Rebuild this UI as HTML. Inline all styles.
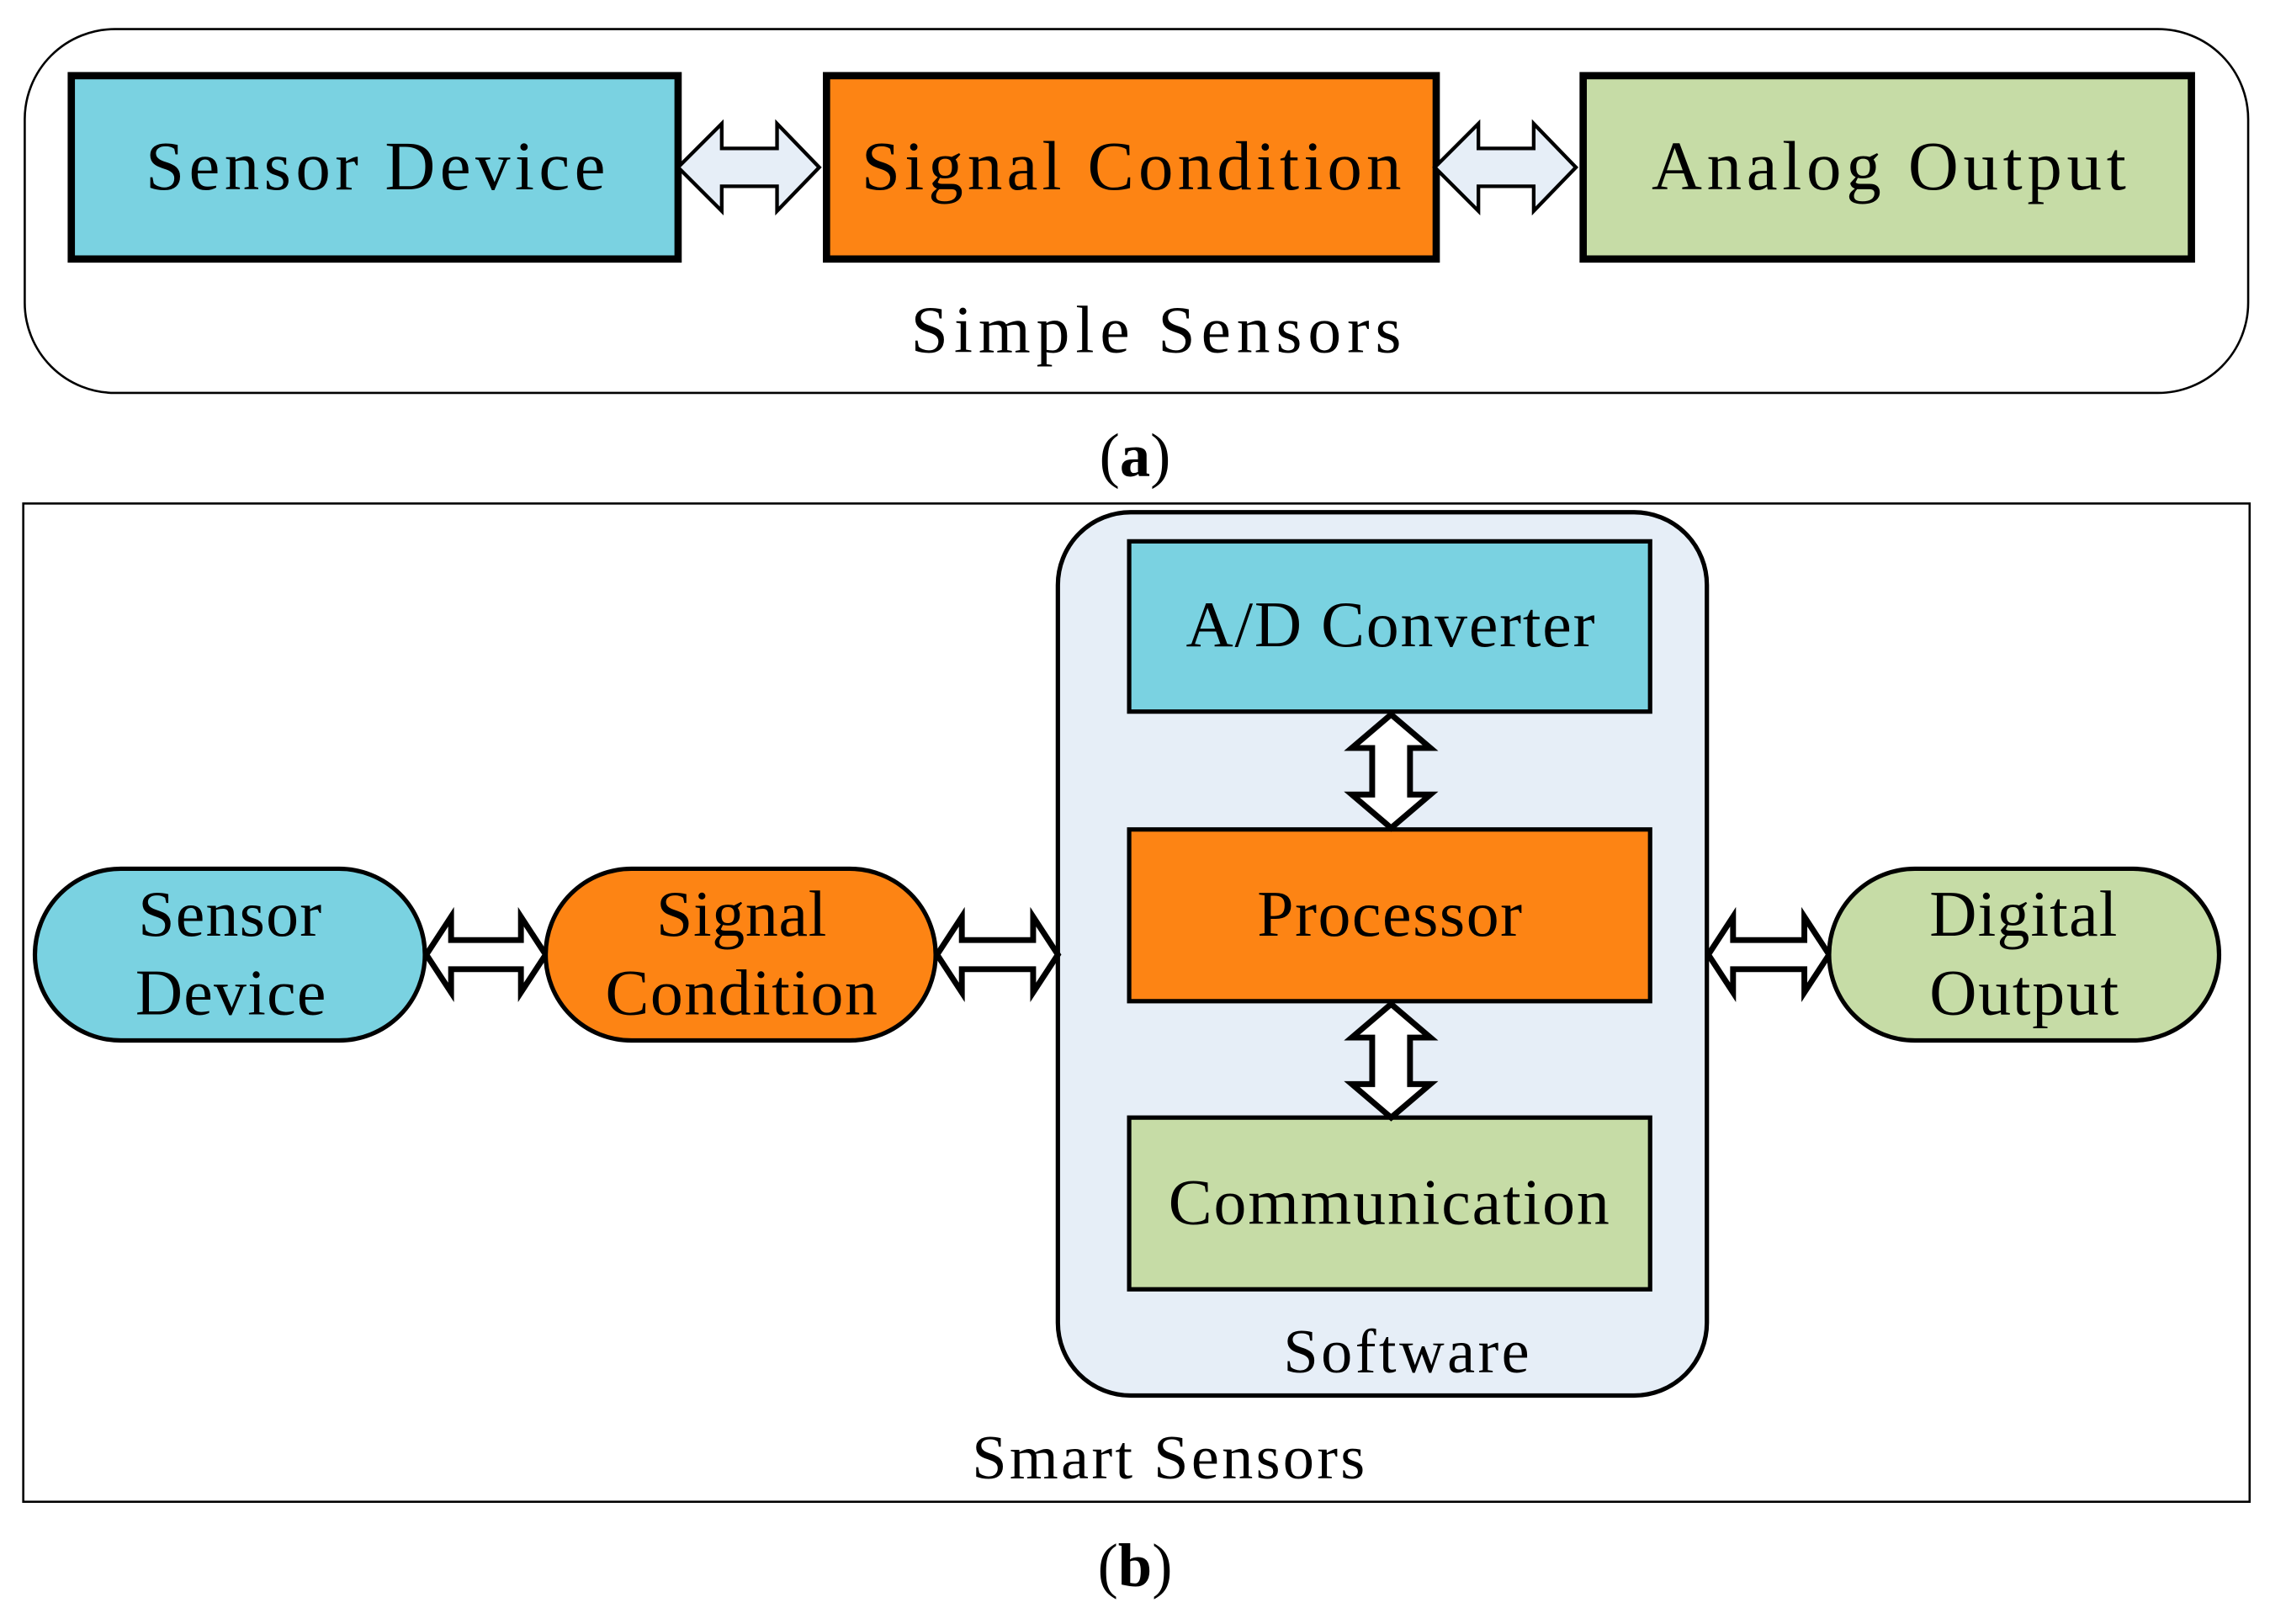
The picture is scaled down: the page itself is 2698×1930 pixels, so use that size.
<!DOCTYPE html>
<html><head><meta charset="utf-8"><style>
html,body{margin:0;padding:0;background:#fff}
svg{display:block}
text{font-family:"Liberation Serif",serif;fill:#000}
</style></head><body>
<svg width="2698" height="1930" viewBox="0 0 1560 1116" preserveAspectRatio="none" xmlns="http://www.w3.org/2000/svg">
<rect x="17" y="20" width="1528" height="250" rx="62" fill="#fff" stroke="#000" stroke-width="1.5"/>
<rect x="49" y="52" width="417" height="126" fill="#7ad2e1" stroke="#000" stroke-width="5"/>
<rect x="568" y="52" width="419" height="126" fill="#fd8414" stroke="#000" stroke-width="5"/>
<rect x="1088" y="52" width="418" height="126" fill="#c6dca6" stroke="#000" stroke-width="5"/>
<text x="100" y="130" font-size="48" textLength="316" lengthAdjust="spacing">Sensor Device</text>
<text x="592" y="130" font-size="48" textLength="371" lengthAdjust="spacing">Signal Condition</text>
<text x="1135" y="130" font-size="48" textLength="326" lengthAdjust="spacing">Analog Output</text>
<g fill="#e6eef7" stroke="#000" stroke-width="2.5" stroke-linejoin="miter">
<path d="M466,115 L496,85 L496,102 L534,102 L534,85 L563,115 L534,145 L534,128 L496,128 L496,145 Z"/>
<path d="M986,115 L1016,85 L1016,102 L1054,102 L1054,85 L1083,115 L1054,145 L1054,128 L1016,128 L1016,145 Z"/>
</g>
<text x="626" y="242" font-size="46" textLength="337" lengthAdjust="spacing">Simple Sensors</text>
<text x="780" y="327" font-size="42" text-anchor="middle">(<tspan font-weight="bold">a</tspan>)</text>

<rect x="16" y="346" width="1530" height="686" fill="#fff" stroke="#000" stroke-width="1.5"/>
<rect x="727" y="352" width="446" height="607" rx="50" fill="#e6eef7" stroke="#000" stroke-width="3"/>
<rect x="776" y="372" width="358" height="117" fill="#7ad2e1" stroke="#000" stroke-width="3"/>
<rect x="776" y="570" width="358" height="118" fill="#fd8414" stroke="#000" stroke-width="3"/>
<rect x="776" y="768" width="358" height="118" fill="#c6dca6" stroke="#000" stroke-width="3"/>
<text x="815" y="444" font-size="45" textLength="281" lengthAdjust="spacing">A/D Converter</text>
<text x="864" y="643" font-size="45" textLength="182" lengthAdjust="spacing">Processor</text>
<text x="803" y="841" font-size="45" textLength="303" lengthAdjust="spacing">Communication</text>
<g fill="#fff" stroke="#000" stroke-width="4" stroke-linejoin="miter">
<path d="M956,491 L983,514 L969,514 L969,546 L983,546 L956,569 L929,546 L943,546 L943,514 L929,514 Z"/>
<path d="M956,690 L983,713 L969,713 L969,745 L983,745 L956,768 L929,745 L943,745 L943,713 L929,713 Z"/>
<path d="M293,656 L310,630 L310,646 L358,646 L358,630 L375,656 L358,682 L358,666 L310,666 L310,682 Z"/>
<path d="M644,656 L661,630 L661,646 L710,646 L710,630 L727,656 L710,682 L710,666 L661,666 L661,682 Z"/>
<path d="M1174,656 L1191,630 L1191,646 L1240,646 L1240,630 L1257,656 L1240,682 L1240,666 L1191,666 L1191,682 Z"/>
</g>
<rect x="24" y="597" width="268" height="118" rx="59" fill="#7ad2e1" stroke="#000" stroke-width="3"/>
<rect x="375" y="597" width="268" height="118" rx="59" fill="#fd8414" stroke="#000" stroke-width="3"/>
<rect x="1257" y="597" width="268" height="118" rx="59" fill="#c6dca6" stroke="#000" stroke-width="3"/>
<text x="95" y="643" font-size="45" textLength="126" lengthAdjust="spacing">Sensor</text>
<text x="93" y="697" font-size="45" textLength="131" lengthAdjust="spacing">Device</text>
<text x="451" y="643" font-size="45" textLength="117" lengthAdjust="spacing">Signal</text>
<text x="416" y="697" font-size="45" textLength="187" lengthAdjust="spacing">Condition</text>
<text x="1326" y="643" font-size="45" textLength="129" lengthAdjust="spacing">Digital</text>
<text x="1326" y="697" font-size="45" textLength="130" lengthAdjust="spacing">Output</text>
<text x="882" y="943" font-size="43" textLength="169" lengthAdjust="spacing">Software</text>
<text x="668" y="1016" font-size="43" textLength="270" lengthAdjust="spacing">Smart Sensors</text>
<text x="780" y="1090" font-size="42" text-anchor="middle">(<tspan font-weight="bold">b</tspan>)</text>
</svg>
</body></html>
